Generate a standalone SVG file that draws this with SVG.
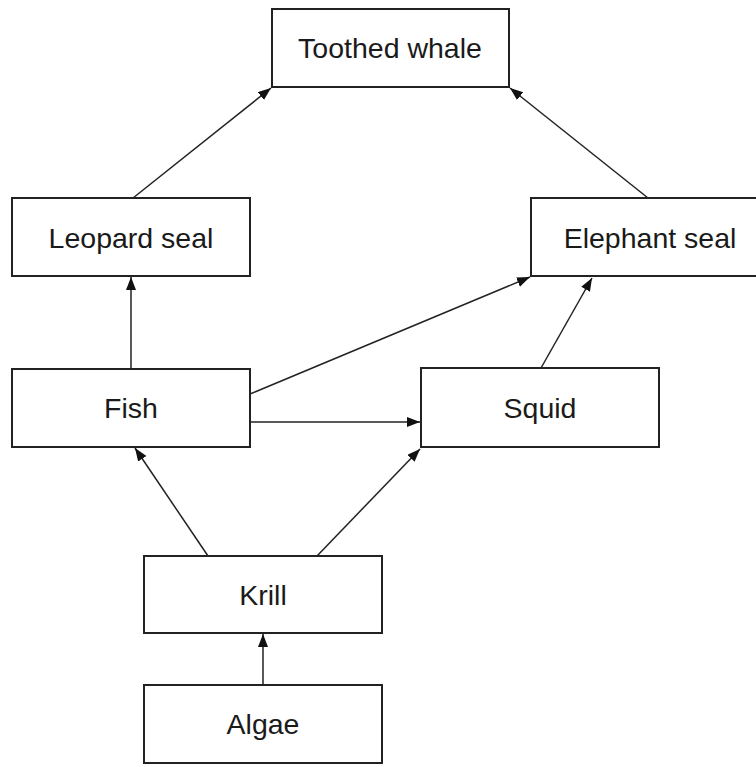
<svg xmlns="http://www.w3.org/2000/svg" width="756" height="767" viewBox="0 0 756 767">
<style>
.box{fill:#fff;stroke:#222;stroke-width:2}
.lbl{font-family:"Liberation Sans",Arial,sans-serif;font-size:28.5px;fill:#1a1a1a;text-anchor:middle}
.edge{stroke:#222;stroke-width:1.5;fill:none;marker-end:url(#arr)}
</style>
<defs>
<marker id="arr" markerUnits="userSpaceOnUse" markerWidth="14" markerHeight="12" refX="13" refY="5" orient="auto">
<path d="M0,0 L13,5 L0,10 Z" fill="#111"/>
</marker>
</defs>
<rect width="756" height="767" fill="#fff"/>
<g id="connectors">
<line class="edge" x1="133" y1="198" x2="271" y2="88"/>
<line class="edge" x1="648" y1="198" x2="510" y2="88"/>
<line class="edge" x1="131" y1="369" x2="131" y2="277"/>
<line class="edge" x1="250" y1="394" x2="530" y2="277"/>
<line class="edge" x1="250" y1="422" x2="420" y2="422"/>
<line class="edge" x1="541" y1="368" x2="592" y2="278"/>
<line class="edge" x1="208" y1="556" x2="135" y2="448"/>
<line class="edge" x1="317" y1="556" x2="420" y2="449"/>
<line class="edge" x1="263" y1="685" x2="263" y2="634"/>
</g>
<g id="toothed-whale"><rect class="box" x="272" y="9" width="237" height="78"/><text class="lbl" x="390" y="58">Toothed whale</text></g>
<g id="leopard-seal"><rect class="box" x="12" y="198" width="238" height="78"/><text class="lbl" x="131" y="247.5">Leopard seal</text></g>
<g id="elephant-seal"><rect class="box" x="531" y="198" width="238" height="78"/><text class="lbl" x="650" y="247.5">Elephant seal</text></g>
<g id="fish"><rect class="box" x="12" y="369" width="238" height="78"/><text class="lbl" x="131" y="418">Fish</text></g>
<g id="squid"><rect class="box" x="421" y="368" width="238" height="79"/><text class="lbl" x="540" y="417.5">Squid</text></g>
<g id="krill"><rect class="box" x="144" y="556" width="238" height="77"/><text class="lbl" x="263" y="604.5">Krill</text></g>
<g id="algae"><rect class="box" x="144" y="685" width="238" height="78"/><text class="lbl" x="263" y="734">Algae</text></g>
</svg>
